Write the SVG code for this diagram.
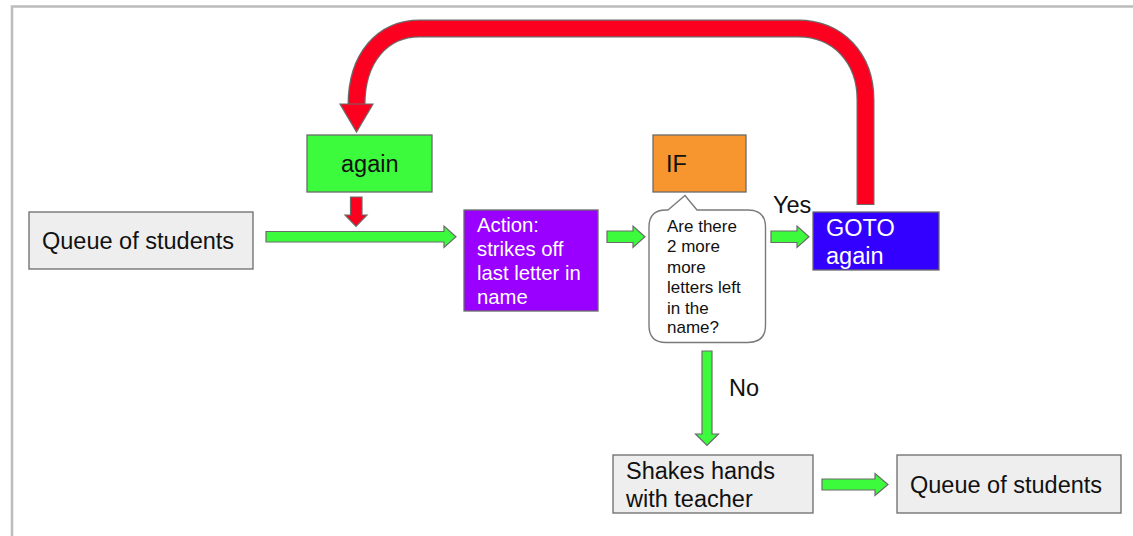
<svg xmlns="http://www.w3.org/2000/svg" width="1133" height="536" viewBox="0 0 1133 536">
<style>
.frame{stroke:#bcbcbc;stroke-width:2.5;fill:none}
.box{stroke:#6b6b6b;stroke-width:1.3}
.grey{fill:#eeeeee}
.t{font-family:"Liberation Sans",Arial,sans-serif;font-size:23.5px;fill:#111}
.w{fill:#ffffff}
.s{font-size:17px}
.m{font-size:20.3px}
.ga{fill:#3cfa3c;stroke:#6b6b6b;stroke-width:1.2;stroke-linejoin:miter}
.ra{fill:#fb001f;stroke:#6b6b6b;stroke-width:1.2}
</style>
<rect width="1133" height="536" fill="#ffffff"/>
<path class="frame" d="M12 536 V6.5 H1133"/>
<g id="connectors">
<path d="M865.5 205 V100 C865.5 58 838 28.5 798 28.5 H420 C382 28.5 356.5 58 356.5 105" fill="none" stroke="#6b6b6b" stroke-width="18"/>
<path d="M865.5 204 V100 C865.5 58 838 28.5 798 28.5 H420 C382 28.5 356.5 58 356.5 106" fill="none" stroke="#fb001f" stroke-width="15.6"/>
<polygon class="ra" points="340,104 373,104 356.5,132"/>
<polygon class="ra" points="350.5,197 362,197 362,215 367,215 356,226.5 345,215 350.5,215"/>
<polygon class="ga" points="266,231.5 444,231.5 444,226 456,236.8 444,247.5 444,242 266,242"/>
<polygon class="ga" points="607,231 633,231 633,226 645,236.8 633,247.5 633,242.5 607,242.5"/>
<polygon class="ga" points="771,231 797,231 797,226 809,236.8 797,247.5 797,242.5 771,242.5"/>
<polygon class="ga" points="702,351 712,351 712,434 718.5,434 707,445.5 695.5,434 702,434"/>
<polygon class="ga" points="822,479 875,479 875,473.5 888,484.5 875,495.5 875,490 822,490"/>
<text class="t" x="773" y="213">Yes</text>
<text class="t" x="729" y="396">No</text>
</g>
<g id="queue1">
<rect class="box grey" x="29" y="212" width="224" height="57"/>
<text class="t" x="42" y="249">Queue of students</text>
</g>
<g id="again">
<rect class="box" fill="#3cfa3c" x="307" y="135" width="125" height="57"/>
<text class="t" x="341" y="172">again</text>
</g>
<g id="action">
<rect class="box" fill="#9900ff" x="464" y="210" width="134" height="101"/>
<text class="t w m" x="477" y="232">Action:</text>
<text class="t w m" x="477" y="256">strikes off</text>
<text class="t w m" x="477" y="280">last letter in</text>
<text class="t w m" x="477" y="304">name</text>
</g>
<g id="if">
<rect class="box" fill="#f7952f" x="653" y="135" width="93" height="57"/>
<text class="t" x="666" y="172">IF</text>
</g>
<g id="bubble">
<path d="M668 210 L685 195.5 L697 210 H748 Q765.5 210 765.5 227 V325.5 Q765.5 342.5 748 342.5 H666 Q649 342.5 649 325.5 V227 Q649 210 666 210 Z" fill="#ffffff" stroke="#7a7a7a" stroke-width="1.4"/>
<text class="t s" x="667" y="232">Are there</text>
<text class="t s" x="667" y="252">2 more</text>
<text class="t s" x="667" y="272.5">more</text>
<text class="t s" x="667" y="293">letters left</text>
<text class="t s" x="667" y="313.5">in the</text>
<text class="t s" x="667" y="333">name?</text>
</g>
<g id="goto">
<rect class="box" fill="#3300ff" x="813" y="212" width="126" height="58"/>
<text class="t w" x="826" y="236">GOTO</text>
<text class="t w" x="826" y="264">again</text>
</g>
<g id="shakes">
<rect class="box grey" x="613" y="455" width="200" height="58"/>
<text class="t" x="626" y="479">Shakes hands</text>
<text class="t" x="626" y="507">with teacher</text>
</g>
<g id="queue2">
<rect class="box grey" x="897" y="455" width="224" height="58"/>
<text class="t" x="910" y="493">Queue of students</text>
</g>
</svg>
